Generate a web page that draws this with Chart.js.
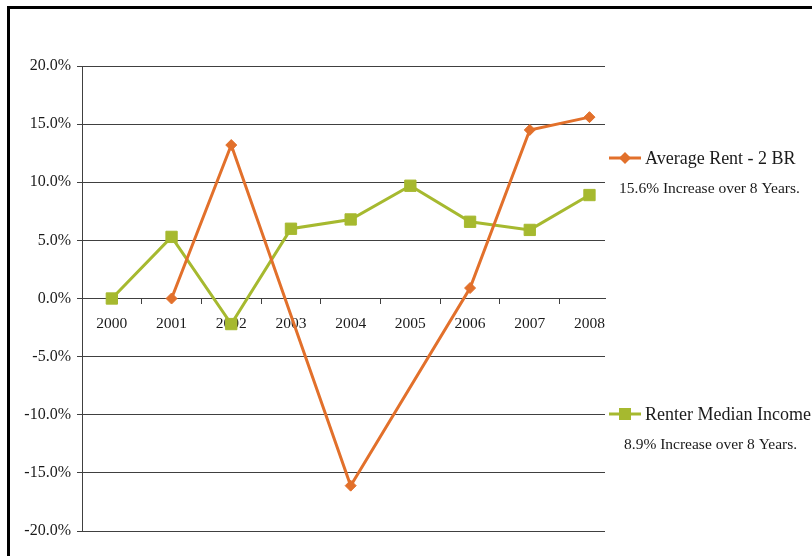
<!DOCTYPE html>
<html>
<head>
<meta charset="utf-8">
<script src="https://cdn.jsdelivr.net/npm/chart.js@4.4.1/dist/chart.umd.min.js"></script>
<style>
  html, body { margin: 0; padding: 0; background: #fff; overflow: hidden; }
  #wrap { position: relative; width: 812px; height: 556px; }
  #frame { position: absolute; left: 7px; top: 6px; width: 900px; height: 700px; border: 3px solid #000; box-sizing: border-box; pointer-events: none; }
  canvas { position: absolute; left: 0; top: 0; }
</style>
</head>
<body>
<div id="wrap">
  <canvas id="rentChart" width="812" height="556"></canvas>
  <div id="frame"></div>
</div>
<script>
const years = ['2000', '2001', '2002', '2003', '2004', '2005', '2006', '2007', '2008'];
const avgRent2BR = [null, 0.0, 13.2, null, -16.1, null, 0.9, 14.5, 15.6];
const renterIncome = [0.0, 5.3, -2.2, 6.0, 6.8, 9.7, 6.6, 5.9, 8.9];
const yTicks = [-20, -15, -10, -5, 0, 5, 10, 15, 20];
const rentNote = '15.6% Increase over 8 Years.';
const incomeNote = '8.9% Increase over 8 Years.';

const orange = '#E2702B';
const green = '#A6B92F';
const serif = '"Liberation Serif", "Times New Roman", serif';

// legend on the right, drawn by hand like the original
const sideLegend = {
    id: 'sideLegend',
    afterDraw(chart) {
        const ctx = chart.ctx;
        ctx.save();
        ctx.textBaseline = 'middle';
        ctx.textAlign = 'left';

        // Average Rent
        ctx.strokeStyle = orange;
        ctx.lineWidth = 3;
        ctx.beginPath();
        ctx.moveTo(609, 158);
        ctx.lineTo(641, 158);
        ctx.stroke();
        ctx.fillStyle = orange;
        ctx.beginPath();
        ctx.moveTo(625, 152);
        ctx.lineTo(631, 158);
        ctx.lineTo(625, 164);
        ctx.lineTo(619, 158);
        ctx.closePath();
        ctx.fill();
        ctx.fillStyle = '#1a1a1a';
        ctx.font = '18px ' + serif;
        ctx.fillText(chart.data.datasets[0].label, 645, 159);
        ctx.font = '15.5px ' + serif;
        ctx.fillText(rentNote, 619, 189);

        // Renter Median Income
        ctx.strokeStyle = green;
        ctx.beginPath();
        ctx.moveTo(609, 414);
        ctx.lineTo(641, 414);
        ctx.stroke();
        ctx.fillStyle = green;
        ctx.fillRect(619, 408, 12, 12);
        ctx.fillStyle = '#1a1a1a';
        ctx.font = '18px ' + serif;
        ctx.fillText(chart.data.datasets[1].label, 645, 415);
        ctx.font = '15.5px ' + serif;
        ctx.fillText(incomeNote, 624, 445);
        ctx.restore();
    }
};

const ctx = document.getElementById('rentChart').getContext('2d');
new Chart(ctx, {
    type: 'line',
    data: {
        datasets: [{
            label: 'Average Rent - 2 BR',
            data: years.map((y, i) => ({ x: i, y: avgRent2BR[i] })),
            borderColor: orange,
            backgroundColor: orange,
            borderWidth: 3,
            pointStyle: 'rectRot',
            pointRadius: 5.5,
            pointBorderWidth: 1,
            pointBackgroundColor: orange,
            pointBorderColor: orange,
            spanGaps: true,
            tension: 0
        }, {
            label: 'Renter Median Income',
            data: years.map((y, i) => ({ x: i, y: renterIncome[i] })),
            borderColor: green,
            backgroundColor: green,
            borderWidth: 3,
            pointStyle: 'rect',
            pointRadius: 8,
            pointBorderWidth: 1,
            pointBackgroundColor: green,
            pointBorderColor: green,
            tension: 0
        }]
    },
    options: {
        responsive: false,
        animation: false,
        layout: { padding: { left: 0, top: 66, right: 207, bottom: 25 } },
        plugins: {
            legend: { display: false },
            tooltip: { enabled: false }
        },
        scales: {
            x: {
                type: 'linear',
                position: { y: 0 },
                min: -0.5,
                max: 8.26,
                afterBuildTicks: (scale) => {
                    const t = [];
                    for (let v = -0.5; v <= 8; v += 0.5) t.push({ value: v });
                    scale.ticks = t;
                },
                afterFit: (scale) => { scale.height = 0; },
                ticks: {
                    autoSkip: false,
                    maxRotation: 0,
                    padding: 11,
                    color: '#1a1a1a',
                    font: { family: serif, size: 15.5 },
                    callback: (v) => Number.isInteger(v) ? years[v] : ''
                },
                grid: {
                    drawOnChartArea: false,
                    tickLength: 5,
                    tickColor: (c) => (c.tick && c.tick.value % 1 !== 0 && c.tick.value > -0.5) ? '#404040' : 'transparent'
                },
                border: { display: true, color: '#404040', width: 1 }
            },
            y: {
                min: -20,
                max: 20,
                afterBuildTicks: (scale) => { scale.ticks = yTicks.map(v => ({ value: v })); },
                afterFit: (scale) => { scale.width = 82; },
                ticks: {
                    padding: 6,
                    color: '#1a1a1a',
                    font: { family: serif, size: 16 },
                    callback: (v) => v.toFixed(1) + '%'
                },
                grid: { color: '#404040', tickLength: 5, lineWidth: 1 },
                border: { display: true, color: '#404040', width: 1 }
            }
        }
    },
    plugins: [sideLegend]
});
</script>
</body>
</html>
